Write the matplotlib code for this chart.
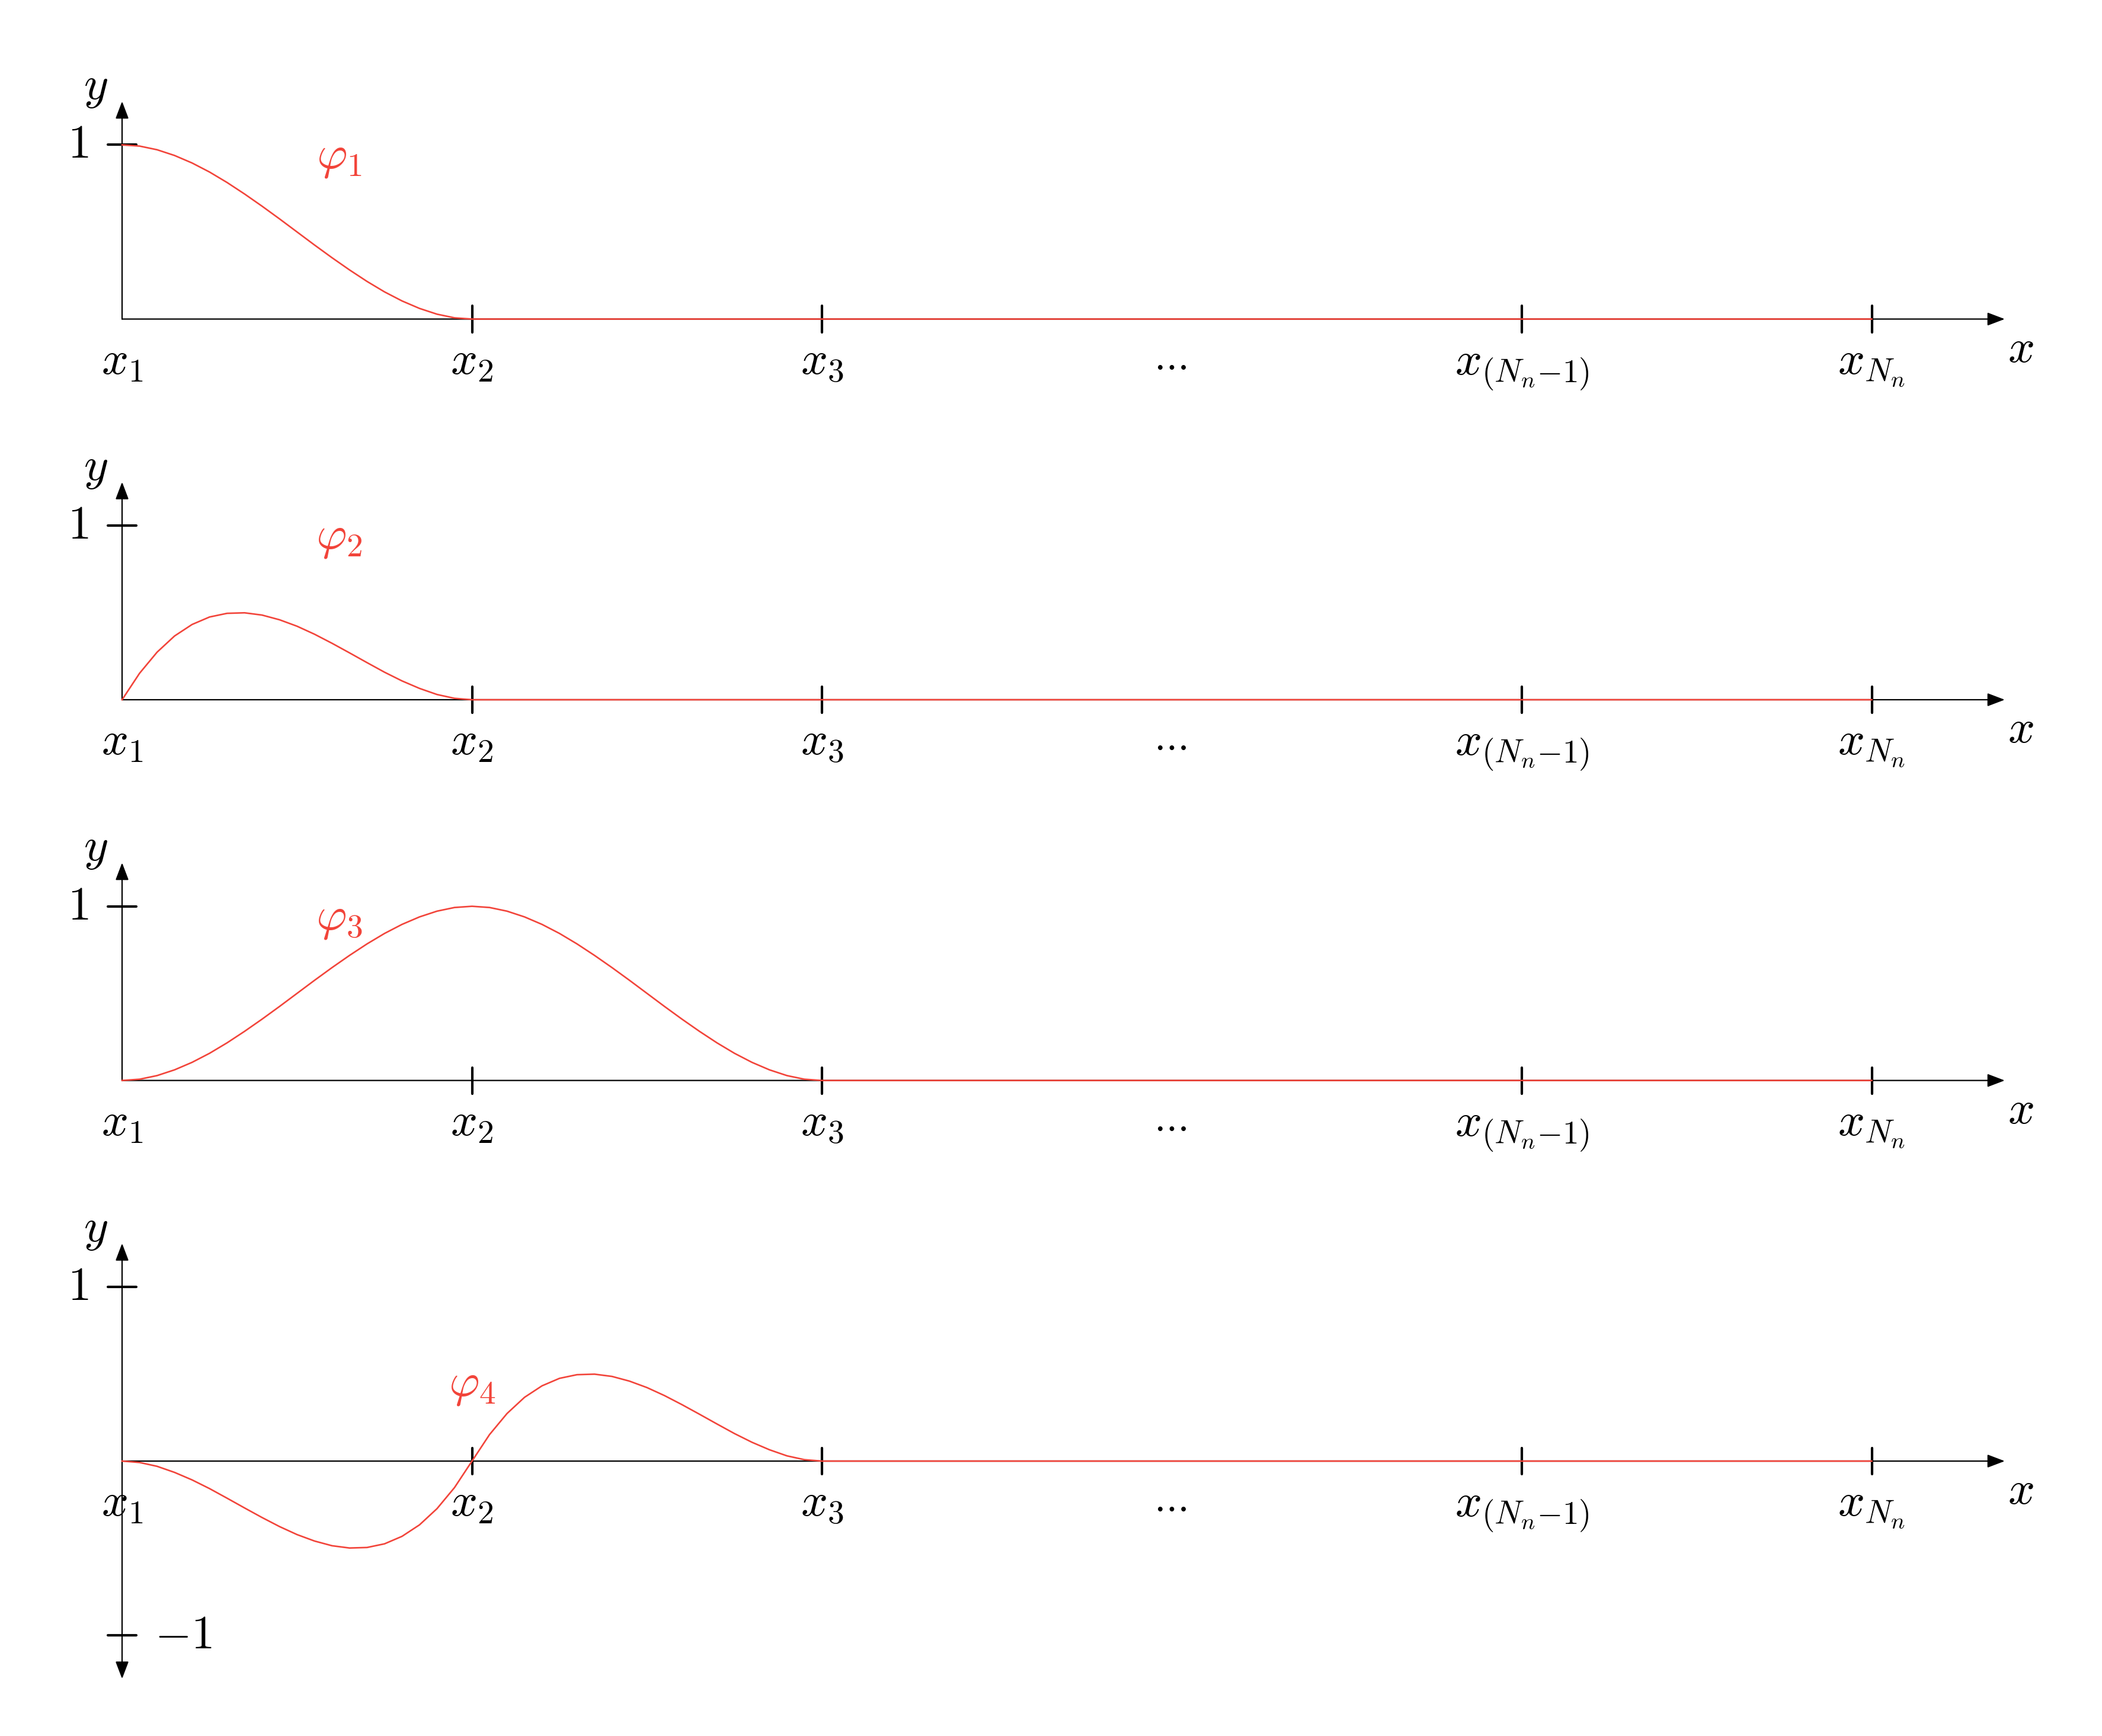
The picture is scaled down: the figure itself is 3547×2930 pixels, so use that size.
import numpy as np
import matplotlib
matplotlib.use("Agg")
import matplotlib.pyplot as plt

plt.rcParams["mathtext.fontset"] = "cm"
plt.rcParams["font.family"] = ["DejaVu Serif"]

# node positions along x (in element lengths) and their labels
node_x = [0, 1, 2, 3, 4, 5]
node_labels = ["$x_1$", "$x_2$", "$x_3$", "...", "$x_{(N_n{-}1)}$", "$x_{N_n}$"]
tick_nodes = [1, 2, 4, 5]

# curve values, every 0.05 of an element from x1
phi1_y = [1.0, 0.993, 0.972, 0.939, 0.896, 0.844, 0.784, 0.718, 0.648, 0.575, 0.5,
          0.425, 0.352, 0.282, 0.216, 0.156, 0.104, 0.061, 0.028, 0.007, 0.0]
phi2_y = [0.0, 0.152, 0.273, 0.366, 0.432, 0.475, 0.496, 0.499, 0.486, 0.459, 0.422,
          0.376, 0.324, 0.269, 0.213, 0.158, 0.108, 0.065, 0.030, 0.008, 0.0]
phi3_y = [0.0, 0.007, 0.028, 0.061, 0.104, 0.156, 0.216, 0.282, 0.352, 0.425, 0.5,
          0.575, 0.648, 0.718, 0.784, 0.844, 0.896, 0.939, 0.972, 0.993, 1.0,
          0.993, 0.972, 0.939, 0.896, 0.844, 0.784, 0.718, 0.648, 0.575, 0.5,
          0.425, 0.352, 0.282, 0.216, 0.156, 0.104, 0.061, 0.028, 0.007, 0.0]
phi4_y = [0.0, -0.008, -0.030, -0.065, -0.108, -0.158, -0.213, -0.269, -0.324, -0.376, -0.422,
          -0.459, -0.486, -0.499, -0.496, -0.475, -0.432, -0.366, -0.273, -0.152, 0.0,
          0.152, 0.273, 0.366, 0.432, 0.475, 0.496, 0.499, 0.486, 0.459, 0.422,
          0.376, 0.324, 0.269, 0.213, 0.158, 0.108, 0.065, 0.030, 0.008, 0.0]

curves = [phi1_y, phi2_y, phi3_y, phi4_y]
curve_names = [r"$\varphi_1$", r"$\varphi_2$", r"$\varphi_3$", r"$\varphi_4$"]
name_pos = [(0.62, 0.93), (0.62, 0.93), (0.62, 0.93), (1.0, 0.44)]
step = 0.05

RED = "#f2443a"
FS = 57
W, H = 3547, 2930
x0_px, unit_x = 206, 590.5
unit_y = 294
baselines = [538.5, 1181, 1823.6, 2466]
yr = 1.6

fig = plt.figure(figsize=(W / 100, H / 100), dpi=100)

head = "head_length=1.0,head_width=0.38"
arrow = dict(arrowstyle="-|>," + head, lw=1.6, color="black",
             mutation_scale=18, shrinkA=0, shrinkB=0)

for i, ys in enumerate(curves):
    b = baselines[i]
    ax = fig.add_axes([0, (H - b - yr * unit_y) / H, 1, 2 * yr * unit_y / H])
    ax.set_xlim(-x0_px / unit_x, (W - x0_px) / unit_x)
    ax.set_ylim(-yr, yr)
    ax.axis("off")

    # x axis
    ax.annotate("", xy=(5.38, 0), xytext=(0, 0), arrowprops=arrow, annotation_clip=False)
    # y axis
    if i == 3:
        arrow2 = dict(arrow, arrowstyle="<|-|>," + head)
        ax.annotate("", xy=(0, 1.25), xytext=(0, -1.25), arrowprops=arrow2, annotation_clip=False)
        ax.plot([-0.04, 0.04], [-1, -1], color="black", lw=3.0, solid_capstyle="round")
        ax.text(0.176, -1.0, "$-1$", fontsize=FS, ha="center", va="center")
    else:
        ax.annotate("", xy=(0, 1.25), xytext=(0, 0), arrowprops=arrow, annotation_clip=False)
    ax.plot([-0.04, 0.04], [1, 1], color="black", lw=3.0, solid_capstyle="round")
    ax.text(-0.126, 1.0, "$1$", fontsize=FS, ha="center", va="center")
    ax.text(-0.076, 1.33, "$y$", fontsize=FS, ha="center", va="center")
    ax.text(5.425, -0.245, "$x$", fontsize=FS, ha="center", va="baseline")

    for k in tick_nodes:
        ax.plot([node_x[k], node_x[k]], [-0.075, 0.075], color="black", lw=3.0,
                solid_capstyle="round")
    for xn, lab in zip(node_x, node_labels):
        if lab == "...":
            ax.text(xn, -0.29, lab, fontsize=FS - 6, ha="center", va="baseline",
                    fontfamily="cmr10")
        else:
            ax.text(xn, -0.315, lab, fontsize=FS, ha="center", va="baseline")

    xs = np.arange(len(ys)) * step
    xs = np.append(xs, node_x[-1])
    yv = np.append(ys, 0.0)
    ax.plot(xs, yv, color=RED, lw=1.9, zorder=5)
    ax.text(name_pos[i][0], name_pos[i][1], curve_names[i], fontsize=FS, color=RED,
            ha="center", va="center")

fig.savefig("out.png", dpi=100)
